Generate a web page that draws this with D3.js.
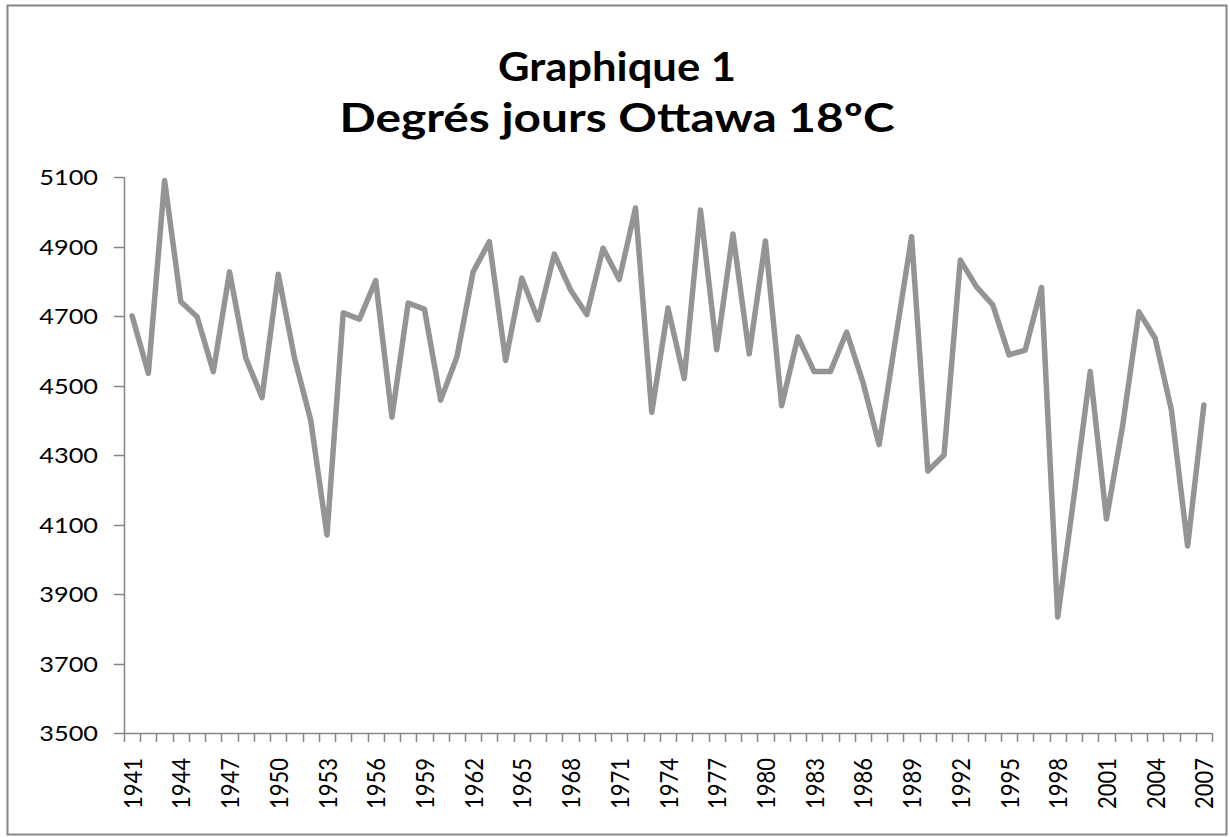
<!DOCTYPE html>
<html>
<head>
<meta charset="utf-8">
<script src="https://cdn.jsdelivr.net/npm/d3@7"></script>
<style>
  html, body { margin: 0; padding: 0; background: #fff; }
  svg { display: block; }
  text { font-family: Lato, "Open Sans", sans-serif; fill: #000; }
</style>
</head>
<body>
<svg id="chart"></svg>
<script>
// Degrés jours Ottawa 18ºC, 1941-2007
const years = d3.range(1941, 2008);
const degreeDays = [
    4700, 4535, 5090, 4741, 4698, 4540, 4827, 4579, 4465, 4820,
    4579, 4400, 4070, 4709, 4691, 4802, 4409, 4737, 4720, 4458,
    4582, 4827, 4914, 4572, 4809, 4689, 4878, 4775, 4704, 4895,
    4805, 5011, 4423, 4723, 4520, 5005, 4603, 4936, 4591, 4916,
    4442, 4640, 4540, 4540, 4654, 4510, 4330, 4630, 4928, 4254,
    4300, 4861, 4784, 4732, 4588, 4602, 4782, 3834, 4180, 4540,
    4116, 4385, 4712, 4636, 4429, 4038, 4444
];
const yTicks = [3500, 3700, 3900, 4100, 4300, 4500, 4700, 4900, 5100];
const titleLines = ['Graphique 1', 'Degrés jours Ottawa 18ºC'];

const w = 1230;
const h = 837;
const plot = { left: 124, right: 1212, top: 177, bottom: 733 };
const stretch = 1.15; // the original picture is a bit wider than tall

const svg = d3.select('#chart')
    .attr('width', w)
    .attr('height', h);

// outer frame
svg.append('rect')
    .attr('x', 7.5).attr('y', 5.5)
    .attr('width', 1219).attr('height', 829)
    .attr('fill', 'none')
    .attr('stroke', '#868686')
    .attr('stroke-width', 2);

// title
svg.append('g')
    .selectAll('text')
    .data(titleLines)
    .enter()
    .append('text')
    .attr('x', 617)
    .attr('y', (d, i) => 81 + i * 51)
    .attr('text-anchor', 'middle')
    .attr('font-size', 40)
    .attr('font-weight', 'bold')
    .attr('textLength', (d, i) => i === 0 ? 238 : 555)
    .attr('lengthAdjust', 'spacingAndGlyphs')
    .text(d => d);

const x = d3.scaleBand()
    .domain(years)
    .range([plot.left, plot.right]);

const y = d3.scaleLinear()
    .domain([3500, 5100])
    .range([plot.bottom, plot.top]);

const axisColor = '#868686';

// y axis
const yAxis = svg.append('g');
yAxis.append('line')
    .attr('x1', plot.left + 0.5).attr('x2', plot.left + 0.5)
    .attr('y1', y(5100)).attr('y2', y(3500))
    .attr('stroke', axisColor).attr('stroke-width', 1.5);
yAxis.selectAll('.ytick')
    .data(yTicks)
    .enter()
    .append('line')
    .attr('x1', plot.left - 10).attr('x2', plot.left)
    .attr('y1', d => Math.round(y(d)) + 0.5)
    .attr('y2', d => Math.round(y(d)) + 0.5)
    .attr('stroke', axisColor).attr('stroke-width', 1.5);
yAxis.selectAll('text')
    .data(yTicks)
    .enter()
    .append('text')
    .attr('transform', d => `translate(98, ${ y(d) }) scale(${ stretch }, 1)`)
    .attr('text-anchor', 'end')
    .attr('dominant-baseline', 'central')
    .attr('font-size', 22)
    .text(d => d);

// x axis, ticks between the categories
const bounds = years.map(d => x(d)).concat([plot.right]);
const xAxis = svg.append('g');
xAxis.append('line')
    .attr('x1', plot.left).attr('x2', plot.right)
    .attr('y1', plot.bottom + 0.5).attr('y2', plot.bottom + 0.5)
    .attr('stroke', axisColor).attr('stroke-width', 1.5);
xAxis.selectAll('.xtick')
    .data(bounds)
    .enter()
    .append('line')
    .attr('x1', d => Math.round(d) + 0.5).attr('x2', d => Math.round(d) + 0.5)
    .attr('y1', plot.bottom).attr('y2', plot.bottom + 9)
    .attr('stroke', axisColor).attr('stroke-width', 1.5);
xAxis.selectAll('text')
    .data(years.filter((d, i) => i % 3 === 0))
    .enter()
    .append('text')
    .attr('transform', d => `translate(${ x(d) + x.bandwidth() / 2 }, 758) scale(${ stretch }, 1) rotate(-90)`)
    .attr('text-anchor', 'end')
    .attr('dominant-baseline', 'central')
    .attr('font-size', 22)
    .text(d => d);

// the series
const line = d3.line()
    .x((d, i) => x(years[i]) + x.bandwidth() / 2)
    .y(d => y(d));

svg.append('path')
    .datum(degreeDays)
    .attr('d', line)
    .attr('fill', 'none')
    .attr('stroke', '#949494')
    .attr('stroke-width', 5.5)
    .attr('stroke-linejoin', 'round')
    .attr('stroke-linecap', 'round');
</script>
</body>
</html>
